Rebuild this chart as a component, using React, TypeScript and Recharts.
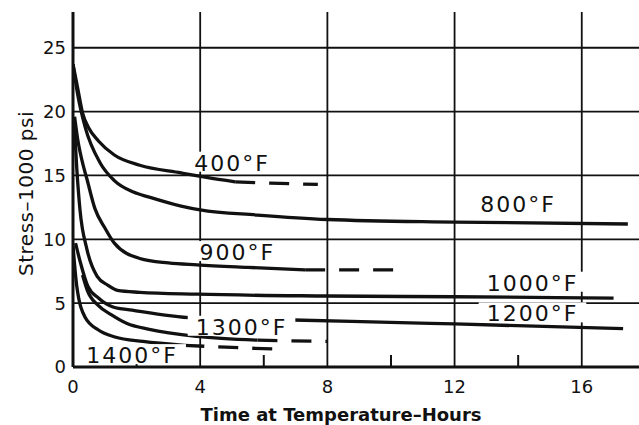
import { LineChart, Line, XAxis, YAxis, CartesianGrid, ReferenceDot, Label } from 'recharts';

const FONT = '"DejaVu Sans", sans-serif';
const INK = '#111';

const X_MAX = 17.8;
const Y_MAX = 27.8;
const X_TICKS = [0, 4, 8, 12, 16];
const X_ALL_TICKS = [0, 2, 4, 6, 8, 10, 12, 14, 16];
const X_MINOR = [2, 6, 10, 14];
const Y_TICKS = [0, 5, 10, 15, 20, 25];

// hours / stress (1000 psi)
const H400 = [0, 0.15, 0.3, 0.5, 0.8, 1.3, 2.1, 3.4, 4.2, 5.1];
const S400 = [23.7, 21.8, 19.9, 18.7, 17.7, 16.6, 15.8, 15.2, 14.85, 14.5];
const H400_EXT = [5.1, 6.2, 7.7];
const S400_EXT = [14.5, 14.4, 14.3];

const H800 = [0, 0.15, 0.38, 0.85, 1.3, 1.9, 2.4, 3.4, 4, 5.8, 8, 12, 17.45];
const S800 = [23.7, 21.3, 18.8, 16.0, 14.6, 13.7, 13.3, 12.6, 12.3, 11.9, 11.55, 11.35, 11.2];

const H900 = [0.05, 0.15, 0.28, 0.44, 0.69, 1.0, 1.3, 2.1, 3, 3.9, 5.5, 7.3];
const S900 = [19.6, 17.8, 16.2, 14.7, 12.4, 10.9, 9.7, 8.5, 8.15, 8.0, 7.8, 7.6];
const H900_EXT = [7.3, 10.1];
const S900_EXT = [7.6, 7.6];

const H1000 = [0.03, 0.12, 0.22, 0.44, 0.76, 1.1, 1.4, 2.1, 3.9, 8, 12, 17];
const S1000 = [19.5, 15.5, 12.3, 9.2, 7.1, 6.4, 6.0, 5.85, 5.7, 5.56, 5.5, 5.4];

const H1200 = [0.08, 0.22, 0.47, 0.8, 1.26, 1.86, 3.78, 6.93, 10.6, 12, 17.3];
const S1200 = [9.7, 8.3, 6.3, 5.4, 4.7, 4.45, 3.84, 3.68, 3.45, 3.37, 3.0];

const H1300 = [0.3, 0.45, 0.8, 1.2, 1.7, 2.4, 3.9, 5.8];
const S1300 = [7.2, 6.0, 4.8, 4.1, 3.4, 2.95, 2.4, 2.1];
const H1300_EXT = [5.8, 8.0];
const S1300_EXT = [2.1, 2.0];

const H1400 = [0, 0.12, 0.38, 0.8, 1.32, 2.2, 3.5];
const S1400 = [9.5, 6.3, 3.9, 2.9, 2.35, 2.0, 1.7];
const H1400_EXT = [3.5, 4.8, 6.4];
const S1400_EXT = [1.7, 1.55, 1.4];

// curve tags
const TAGS = ['400°F', '800°F', '900°F', '1000°F', '1200°F', '1300°F', '1400°F'];
const TAG_X = [5.0, 14.0, 5.17, 14.45, 14.45, 5.3, 1.86];
const TAG_Y = [16.0, 12.75, 9.0, 6.6, 4.2, 3.15, 0.93];

const pts = (xs: number[], ys: number[]) => xs.map((x, i) => ({ x, y: ys[i] }));

const SERIES = [
  { id: 's400', data: pts(H400, S400) },
  { id: 'e400', data: pts(H400_EXT, S400_EXT), dashed: true },
  { id: 's800', data: pts(H800, S800) },
  { id: 's900', data: pts(H900, S900) },
  { id: 'e900', data: pts(H900_EXT, S900_EXT), dashed: true },
  { id: 's1000', data: pts(H1000, S1000) },
  { id: 's1200', data: pts(H1200, S1200) },
  { id: 's1300', data: pts(H1300, S1300) },
  { id: 'e1300', data: pts(H1300_EXT, S1300_EXT), dashed: true },
  { id: 's1400', data: pts(H1400, S1400) },
  { id: 'e1400', data: pts(H1400_EXT, S1400_EXT), dashed: true },
];

const TAG_SIZE = 22;
const TAG_SPACING = 2;

function tagWidth(text: string) {
  let w = 0;
  for (const ch of text) {
    if (ch === '°') w += 0.5;
    else if (ch === 'F') w += 0.575;
    else w += 0.636;
  }
  return w * TAG_SIZE + TAG_SPACING * text.length;
}

function CurveTag(props: any) {
  const { cx, cy, text } = props;
  if (cx == null || cy == null) return null;
  const w = tagWidth(text);
  const cap = 8;
  return (
    <g>
      <rect x={cx - w / 2 - 8} y={cy - cap - 3} width={w + 16} height={cap * 2 + 4} fill="#fff" />
      <text
        x={cx}
        y={cy + cap}
        textAnchor="middle"
        fontFamily={FONT}
        fontSize={TAG_SIZE}
        letterSpacing={TAG_SPACING}
        fill={INK}
      >
        {text}
      </text>
    </g>
  );
}

const TICK_GAP = 13; // tickSize + tickMargin of the bottom axis

// bottom axis tick: number on majors, short inward mark on minors
function BottomTick(props: any) {
  const { x, y, payload } = props;
  const v = payload?.value;
  const axisY = y - TICK_GAP;
  if (X_MINOR.includes(v)) {
    return <line x1={x} x2={x} y1={axisY} y2={axisY - 12} stroke={INK} strokeWidth={2} />;
  }
  return (
    <text x={x} y={y} dy="0.71em" textAnchor="middle" fill={INK} fontSize={18} fontFamily={FONT}>
      {v}
    </text>
  );
}

// top border tick: short inward mark
function TopTick(props: any) {
  const { x, y, payload } = props;
  if (!X_MINOR.includes(payload?.value)) return <g />;
  const axisY = y + TICK_GAP;
  return <line x1={x} x2={x} y1={axisY} y2={axisY + 11} stroke={INK} strokeWidth={2} />;
}

const tickStyle = { fill: INK, fontSize: 18, fontFamily: FONT };

export default function App() {
  return (
    <div style={{ position: 'absolute', left: 0, top: 0, width: 639, height: 425, background: '#fff' }}>
      <LineChart width={639} height={425} margin={{ top: 12, right: 0, bottom: 0, left: 0 }}>
        <CartesianGrid stroke={INK} strokeWidth={1.8} verticalValues={X_TICKS} horizontalValues={Y_TICKS} />
        <XAxis
          type="number"
          dataKey="x"
          domain={[0, X_MAX]}
          ticks={X_ALL_TICKS}
          interval={0}
          allowDataOverflow
          height={58}
          tickLine={false}
          tickSize={6}
          tickMargin={7}
          axisLine={{ stroke: INK, strokeWidth: 3 }}
          tick={<BottomTick />}
        >
          <Label
            content={(p: any) => {
              const vb = p.viewBox || { x: 73, y: 367, width: 566 };
              return (
                <text
                  x={vb.x + vb.width / 2 - 15}
                  y={vb.y + 54}
                  textAnchor="middle"
                  fontFamily={FONT}
                  fontWeight="bold"
                  fontSize={18}
                  fill={INK}
                >
                  Time at Temperature–Hours
                </text>
              );
            }}
          />
        </XAxis>
        <XAxis
          xAxisId="top"
          orientation="top"
          type="number"
          dataKey="x"
          domain={[0, X_MAX]}
          ticks={X_ALL_TICKS}
          interval={0}
          allowDataOverflow
          height={0}
          tickLine={false}
          tickSize={6}
          tickMargin={7}
          axisLine={{ stroke: INK, strokeWidth: 3 }}
          tick={<TopTick />}
        />
        <YAxis
          type="number"
          domain={[0, Y_MAX]}
          ticks={Y_TICKS}
          interval={0}
          allowDataOverflow
          width={73}
          tickLine={false}
          tickSize={4}
          tickMargin={3}
          axisLine={{ stroke: INK, strokeWidth: 3 }}
          tick={tickStyle}
        >
          <Label
            content={(p: any) => {
              const vb = p.viewBox || { x: 0, y: 12, width: 73, height: 355 };
              const cy = vb.y + vb.height / 2 + 4;
              return (
                <text
                  transform={`translate(33, ${cy}) rotate(-90)`}
                  textAnchor="middle"
                  fontFamily={FONT}
                  fontSize={20}
                  letterSpacing={0.5}
                  fill={INK}
                >
                  Stress–1000 psi
                </text>
              );
            }}
          />
        </YAxis>
        {SERIES.map((s) => (
          <Line
            key={s.id}
            data={s.data}
            dataKey="y"
            type="monotone"
            stroke={INK}
            strokeWidth={3.3}
            strokeDasharray={s.dashed ? '20 14' : undefined}
            dot={false}
            activeDot={false}
            isAnimationActive={false}
          />
        ))}
        {TAGS.map((t, i) => (
          <ReferenceDot
            key={t}
            x={TAG_X[i]}
            y={TAG_Y[i]}
            r={1}
            zIndex={2000}
            shape={(p: any) => <CurveTag {...p} text={t} />}
          />
        ))}
      </LineChart>
    </div>
  );
}
